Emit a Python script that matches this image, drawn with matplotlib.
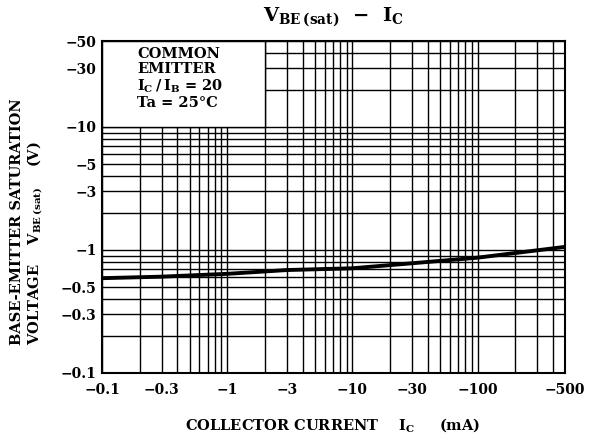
import numpy as np
import matplotlib
matplotlib.use('Agg')
import matplotlib.pyplot as plt
from matplotlib.ticker import FixedLocator, LogLocator, NullFormatter
from matplotlib.patches import Rectangle

# 数据
ic = [0.1, 0.3, 1, 3, 10, 30, 100, 500]
vbe = [0.59, 0.607, 0.64, 0.687, 0.71, 0.78, 0.866, 1.06]
x_ticks = [0.1, 0.3, 1, 3, 10, 30, 100, 500]
x_labels = ['−0.1', '−0.3', '−1', '−3', '−10', '−30', '−100', '−500']
y_ticks = [0.1, 0.3, 0.5, 1, 3, 5, 10, 30, 50]
y_labels = ['−0.1', '−0.3', '−0.5', '−1', '−3', '−5', '−10', '−30', '−50']

plt.rcParams['font.family'] = ['DejaVu Serif']
plt.rcParams['font.weight'] = 'bold'
plt.rcParams['mathtext.fontset'] = 'custom'
plt.rcParams['mathtext.rm'] = 'DejaVu Serif:bold'
plt.rcParams['mathtext.it'] = 'DejaVu Serif:bold'
plt.rcParams['mathtext.default'] = 'rm'

fig = plt.figure(figsize=(5.98, 4.41), dpi=100)
ax = fig.add_axes([0.1706, 0.1542, 0.7742, 0.7528])
ax.set_xscale('log')
ax.set_yscale('log')
ax.set_xlim(0.1, 500)
ax.set_ylim(0.1, 50)

# 刻度和网格
ax.xaxis.set_major_locator(FixedLocator(x_ticks))
ax.yaxis.set_major_locator(FixedLocator(y_ticks))
ax.set_xticklabels(x_labels, fontsize=10, fontweight='bold')
ax.set_yticklabels(y_labels, fontsize=10, fontweight='bold')
ax.xaxis.set_minor_locator(LogLocator(base=10, subs=np.arange(1, 10)))
ax.yaxis.set_minor_locator(LogLocator(base=10, subs=np.arange(1, 10)))
ax.xaxis.set_minor_formatter(NullFormatter())
ax.yaxis.set_minor_formatter(NullFormatter())
ax.tick_params(which='both', length=0)
ax.tick_params(axis='x', pad=7)
ax.tick_params(axis='y', pad=4)
ax.set_axisbelow(True)
ax.grid(which='both', color='black', linewidth=1.0)
for s in ax.spines.values():
    s.set_linewidth(1.5)

# 曲线
ax.plot(ic, vbe, color='black', linewidth=2.8, zorder=3)

# 说明框
ax.add_patch(Rectangle((0.1, 10), 1.9, 40, facecolor='white', edgecolor='black',
                       linewidth=1.0, zorder=2))
ax.text(0.19, 45, 'COMMON\nEMITTER\n$I_C\\,/\\,I_B$ = 20\nTa = 25°C', fontsize=10.5,
        fontweight='bold', va='top', ha='left', linespacing=1.12, zorder=4)

fig.text(0.557, 0.962, '$V_{BE\\,(sat)}$  −  $I_C$', fontsize=14, ha='center', va='center')
fig.text(0.556, 0.036, 'COLLECTOR CURRENT    $I_C$     (mA)', fontsize=10.5,
         ha='center', va='center')
fig.text(0.028, 0.218, 'BASE-EMITTER SATURATION', fontsize=10.5, rotation=90,
         ha='center', va='bottom')
fig.text(0.060, 0.218, 'VOLTAGE    $V_{BE\\,(sat)}$    (V)', fontsize=10.5, rotation=90,
         ha='center', va='bottom')

plt.savefig('out.png', dpi=100)
